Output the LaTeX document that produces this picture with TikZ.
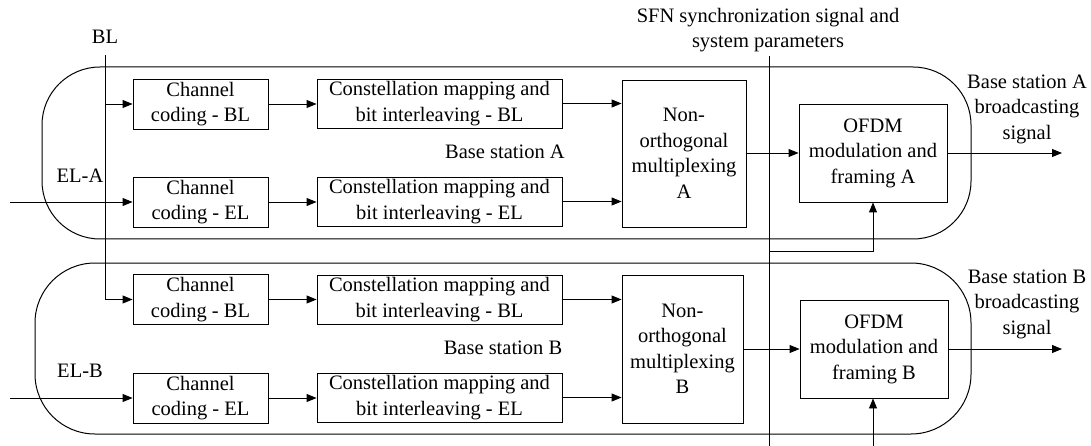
\documentclass[tikz,border=0pt]{standalone}
\usepackage{fontspec}
\setmainfont{Liberation Serif}
\usetikzlibrary{arrows.meta}
\begin{document}
\begin{tikzpicture}[x=1pt,y=-1pt,
  every node/.style={font=\fontsize{20.5}{25.5}\selectfont, align=center},
  box/.style={draw, line width=0.9pt, inner sep=0pt},
  lbl/.style={inner sep=0pt},
  line/.style={line width=0.9pt},
  arr/.style={line width=0.9pt, -{Triangle[length=10pt,width=8pt]}},
  station/.style={draw, line width=1pt}]
\useasboundingbox (0,0) rectangle (1091,446);

% station outlines
\draw[station, rounded corners=58pt] (42,67) rectangle (971,239);
\draw[station, rounded corners=60pt] (35,263) rectangle (971,434);

% base station A
\node[box, minimum width=135pt, minimum height=50pt] (ccBLA) at (200.5,104) {Channel\\coding - BL};
\node[box, minimum width=135pt, minimum height=50pt] (ccELA) at (200.5,202) {Channel\\coding - EL};
\node[box, minimum width=245pt, minimum height=49pt] (cmBLA) at (439.5,103.5) {Constellation mapping and\\bit interleaving - BL};
\node[box, minimum width=245pt, minimum height=49pt] (cmELA) at (439.5,201.5) {Constellation mapping and\\bit interleaving - EL};
\node[box, minimum width=124pt, minimum height=147pt] (noA) at (684,153.5) {Non-\\orthogonal\\multiplexing\\A};
\node[box, minimum width=148pt, minimum height=98pt] (ofA) at (873,153) {OFDM\\modulation and\\framing A};
\node[lbl] (bsA) at (505,152) {Base station A};

% base station B
\node[box, minimum width=135pt, minimum height=50pt] (ccBLB) at (200.5,299.5) {Channel\\coding - BL};
\node[box, minimum width=135pt, minimum height=50pt] (ccELB) at (200.5,398) {Channel\\coding - EL};
\node[box, minimum width=245pt, minimum height=49pt] (cmBLB) at (439.5,299.5) {Constellation mapping and\\bit interleaving - BL};
\node[box, minimum width=245pt, minimum height=49pt] (cmELB) at (439.5,397.5) {Constellation mapping and\\bit interleaving - EL};
\node[box, minimum width=121pt, minimum height=148pt] (noB) at (682.5,349) {Non-\\orthogonal\\multiplexing\\B};
\node[box, minimum width=148pt, minimum height=98pt] (ofB) at (874,349) {OFDM\\modulation and\\framing B};
\node[lbl] (bsB) at (503,348) {Base station B};

% outside labels
\node[lbl] (bl) at (105,37) {BL};
\node[lbl] (elA) at (80,176) {EL-A};
\node[lbl] (elB) at (80,371) {EL-B};
\node[lbl] (sfn) at (768,30) {SFN synchronization signal and\\system parameters};
\node[lbl] (outA) at (1027,109) {Base station A\\broadcasting\\signal};
\node[lbl] (outB) at (1027,304) {Base station B\\broadcasting\\signal};

% free ends
\coordinate (blTop) at (105,55);
\coordinate (blA) at (105,104);
\coordinate (blB) at (105,299.5);
\coordinate (inA) at (10,202);
\coordinate (inB) at (10,398);
\coordinate (sfnTop) at (769,56);
\coordinate (sfnBot) at (769,446);
\coordinate (sfnBr) at (769,251);
\coordinate (syncB) at (873,446);
\coordinate (sinkA) at (1062,153);
\coordinate (sinkB) at (1062,349);

% BL feed
\draw[line] (blTop) -- (blB);
\draw[arr] (blA) -- (ccBLA);
\draw[arr] (blB) -- (ccBLB);
% EL feeds
\draw[arr] (inA) -- (ccELA);
\draw[arr] (inB) -- (ccELB);

% station A chain
\draw[arr] (ccBLA.east) -- (ccBLA.east -| cmBLA.west);
\draw[arr] (ccELA.east) -- (ccELA.east -| cmELA.west);
\draw[arr] (cmBLA.east) -- (cmBLA.east -| noA.west);
\draw[arr] (cmELA.east) -- (cmELA.east -| noA.west);
\draw[arr] (noA.east |- ofA.west) -- (ofA.west);
\draw[arr] (ofA.east) -- (sinkA);

% station B chain
\draw[arr] (ccBLB.east) -- (ccBLB.east -| cmBLB.west);
\draw[arr] (ccELB.east) -- (ccELB.east -| cmELB.west);
\draw[arr] (cmBLB.east) -- (cmBLB.east -| noB.west);
\draw[arr] (cmELB.east) -- (cmELB.east -| noB.west);
\draw[arr] (noB.east |- ofB.west) -- (ofB.west);
\draw[arr] (ofB.east) -- (sinkB);

% SFN synchronization distribution
\draw[line] (sfnTop) -- (sfnBot);
\draw[arr] (sfnBr) -| (ofA.south);
\draw[arr] (syncB) -- (syncB |- ofB.south);
\end{tikzpicture}
\end{document}
